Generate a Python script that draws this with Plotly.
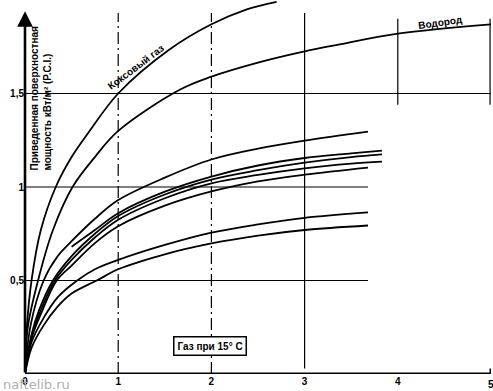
import plotly.graph_objects as go

# ---- data ----
x_ticks = [0, 1, 2, 3, 4, 5]
x_tick_text = ["0", "1", "2", "3", "4", "5"]
y_ticks = [0.5, 1.0, 1.5]
y_tick_text = ["0,5", "1", "1,5"]

koks_x = [0, 0.02, 0.07, 0.17, 0.33, 0.5, 0.68, 1.0, 1.55, 2.0, 2.38, 2.7]
koks_y = [0, 0.25, 0.50, 0.77, 1.00, 1.16, 1.29, 1.50, 1.735, 1.87, 1.95, 1.99]

h2_x = [0, 0.03, 0.14, 0.30, 0.51, 0.75, 1.0, 1.66, 2.0, 2.5, 3.0, 3.35, 4.0, 5.0]
h2_y = [0, 0.25, 0.50, 0.77, 1.00, 1.16, 1.30, 1.52, 1.59, 1.665, 1.725, 1.76, 1.82, 1.87]

m1_x = [0, 0.06, 0.2, 0.35, 0.5, 0.75, 1.0, 1.5, 2.0, 2.5, 3.0, 3.68]
m1_y = [0, 0.26, 0.50, 0.63, 0.71, 0.83, 0.93, 1.05, 1.147, 1.205, 1.248, 1.296]

c1_x = [0.5, 0.75, 1.0, 1.5, 2.0, 2.5, 3.0, 3.5, 3.83]
c1_y = [0.68, 0.77, 0.86, 0.975, 1.056, 1.115, 1.155, 1.18, 1.195]

c2_x = [0, 0.07, 0.15, 0.3, 0.5, 0.75, 1.0, 1.5, 2.0, 2.5, 3.0, 3.5, 3.83]
c2_y = [0, 0.21, 0.34, 0.50, 0.63, 0.75, 0.845, 0.96, 1.04, 1.09, 1.13, 1.16, 1.174]

c3_x = [0, 0.07, 0.16, 0.32, 0.5, 0.75, 1.0, 1.5, 2.0, 2.5, 3.0, 3.5, 3.83]
c3_y = [0, 0.20, 0.33, 0.50, 0.61, 0.73, 0.825, 0.94, 1.02, 1.065, 1.10, 1.125, 1.136]

c4_x = [0, 0.07, 0.17, 0.34, 0.5, 0.75, 1.0, 1.5, 2.0, 2.5, 3.0, 3.68]
c4_y = [0, 0.19, 0.32, 0.50, 0.58, 0.70, 0.79, 0.90, 0.976, 1.03, 1.066, 1.104]

l1_x = [0, 0.07, 0.2, 0.35, 0.56, 0.75, 1.0, 1.5, 2.0, 2.5, 3.0, 3.68]
l1_y = [0, 0.17, 0.30, 0.41, 0.50, 0.56, 0.61, 0.69, 0.756, 0.80, 0.835, 0.864]

l2_x = [0, 0.07, 0.2, 0.35, 0.5, 0.77, 1.0, 1.5, 2.0, 2.5, 3.0, 3.68]
l2_y = [0, 0.14, 0.26, 0.36, 0.43, 0.50, 0.56, 0.64, 0.698, 0.74, 0.77, 0.794]

curves = [(koks_x, koks_y), (h2_x, h2_y), (m1_x, m1_y), (c1_x, c1_y),
          (c2_x, c2_y), (c3_x, c3_y), (c4_x, c4_y), (l1_x, l1_y), (l2_x, l2_y)]

FONT = "Liberation Sans Narrow, Liberation Sans, Arial, sans-serif"

fig = go.Figure()
for cx, cy in curves:
    fig.add_trace(go.Scatter(x=cx, y=cy, mode="lines",
                             line=dict(color="black", width=1.8, shape="spline", smoothing=1.0),
                             hoverinfo="skip", showlegend=False))

shapes = []
# vertical guide lines
shapes.append(dict(type="line", x0=1, x1=1, y0=0, y1=1.93, xref="x", yref="y",
                   line=dict(color="black", width=1.2, dash="12px,4px,2px,4px")))
shapes.append(dict(type="line", x0=2, x1=2, y0=0, y1=1.93, xref="x", yref="y",
                   line=dict(color="black", width=1.2, dash="12px,4px,2px,4px")))
shapes.append(dict(type="line", x0=3, x1=3, y0=0.03, y1=1.93, xref="x", yref="y",
                   line=dict(color="black", width=1.2)))
shapes.append(dict(type="line", x0=4, x1=4, y0=1.44, y1=1.9, xref="x", yref="y",
                   line=dict(color="black", width=1.2)))
shapes.append(dict(type="line", x0=4.99, x1=4.99, y0=1.44, y1=1.9, xref="x", yref="y",
                   line=dict(color="black", width=1.2)))
# horizontal guide lines
shapes.append(dict(type="line", x0=-0.05, x1=5, y0=1.5, y1=1.5, xref="x", yref="y",
                   line=dict(color="black", width=1.2)))
shapes.append(dict(type="line", x0=-0.05, x1=3.68, y0=1.0, y1=1.0, xref="x", yref="y",
                   line=dict(color="black", width=1.2)))
shapes.append(dict(type="line", x0=-0.05, x1=3.68, y0=0.5, y1=0.5, xref="x", yref="y",
                   line=dict(color="black", width=1.2)))
# x axis line
shapes.append(dict(type="line", x0=0, x1=5, y0=0, y1=0, xref="x", yref="y",
                   line=dict(color="black", width=3)))
shapes.append(dict(type="line", x0=4.995, x1=4.995, y0=-0.03, y1=0.03, xref="x", yref="y",
                   line=dict(color="black", width=2)))

annotations = []
# y axis with arrow
annotations.append(dict(x=0, y=1.94, ax=0, ay=0, xref="x", yref="y", axref="x", ayref="y",
                        text="", showarrow=True, arrowhead=2, arrowsize=1.2, arrowwidth=2.6,
                        arrowcolor="black"))
annotations.append(dict(xref="paper", yref="paper", x=(41 - 25) / 466, y=(374 - 173) / 374,
                        xanchor="center", yanchor="bottom", textangle=-90, align="left",
                        showarrow=False,
                        text="Приведенная поверхностная<br>мощность кВт/м² (P.C.I.)",
                        font=dict(family=FONT, size=10, color="black", weight="bold")))
annotations.append(dict(xref="paper", yref="paper", x=(135 - 25) / 466, y=(374 - 67) / 374,
                        xanchor="center", yanchor="middle", textangle=-37, showarrow=False,
                        text="Коксовый газ",
                        font=dict(family=FONT, size=10, color="black", weight="bold")))
annotations.append(dict(xref="paper", yref="paper", x=(440 - 25) / 466, y=(374 - 22) / 374,
                        xanchor="center", yanchor="middle", textangle=-8, showarrow=False,
                        text="Водород",
                        font=dict(family=FONT, size=10, color="black", weight="bold")))
annotations.append(dict(xref="paper", yref="paper", x=(209.5 - 25) / 466, y=(374 - 346) / 374,
                        xanchor="center", yanchor="middle", showarrow=False,
                        text="Газ при 15° C", bgcolor="white", bordercolor="black",
                        borderwidth=1.5, borderpad=3,
                        font=dict(family=FONT, size=10, color="black", weight="bold")))
annotations.append(dict(xref="paper", yref="paper", x=1.0, y=-(385 - 374) / 374,
                        xanchor="center", yanchor="middle", showarrow=False, text="5",
                        font=dict(family=FONT, size=10, color="black", weight="bold")))
annotations.append(dict(xref="paper", yref="paper", x=-24 / 466, y=-(384 - 374) / 374,
                        xanchor="left", yanchor="middle", showarrow=False,
                        text="naftelib.ru",
                        font=dict(family="DejaVu Sans, sans-serif", size=13, color="#b0b0b0")))

fig.update_layout(
    width=493, height=391,
    margin=dict(l=25, r=2, t=0, b=17),
    plot_bgcolor="white", paper_bgcolor="white",
    shapes=shapes, annotations=annotations,
    showlegend=False,
    xaxis=dict(range=[0, 5], tickvals=x_ticks, ticktext=x_tick_text,
               showgrid=False, zeroline=False, showline=False, ticks="", ticklen=0,
               tickfont=dict(family=FONT, size=10, color="black", weight="bold")),
    yaxis=dict(range=[0, 2.0], tickvals=y_ticks, ticktext=y_tick_text,
               showgrid=False, zeroline=False, showline=False, ticks="",
               tickfont=dict(family=FONT, size=10, color="black", weight="bold")),
)

fig.write_html("out.html", config={"displayModeBar": False},
               post_script="document.body.style.margin='0';document.body.style.padding='0';"
                           "document.documentElement.style.overflow='hidden';")
